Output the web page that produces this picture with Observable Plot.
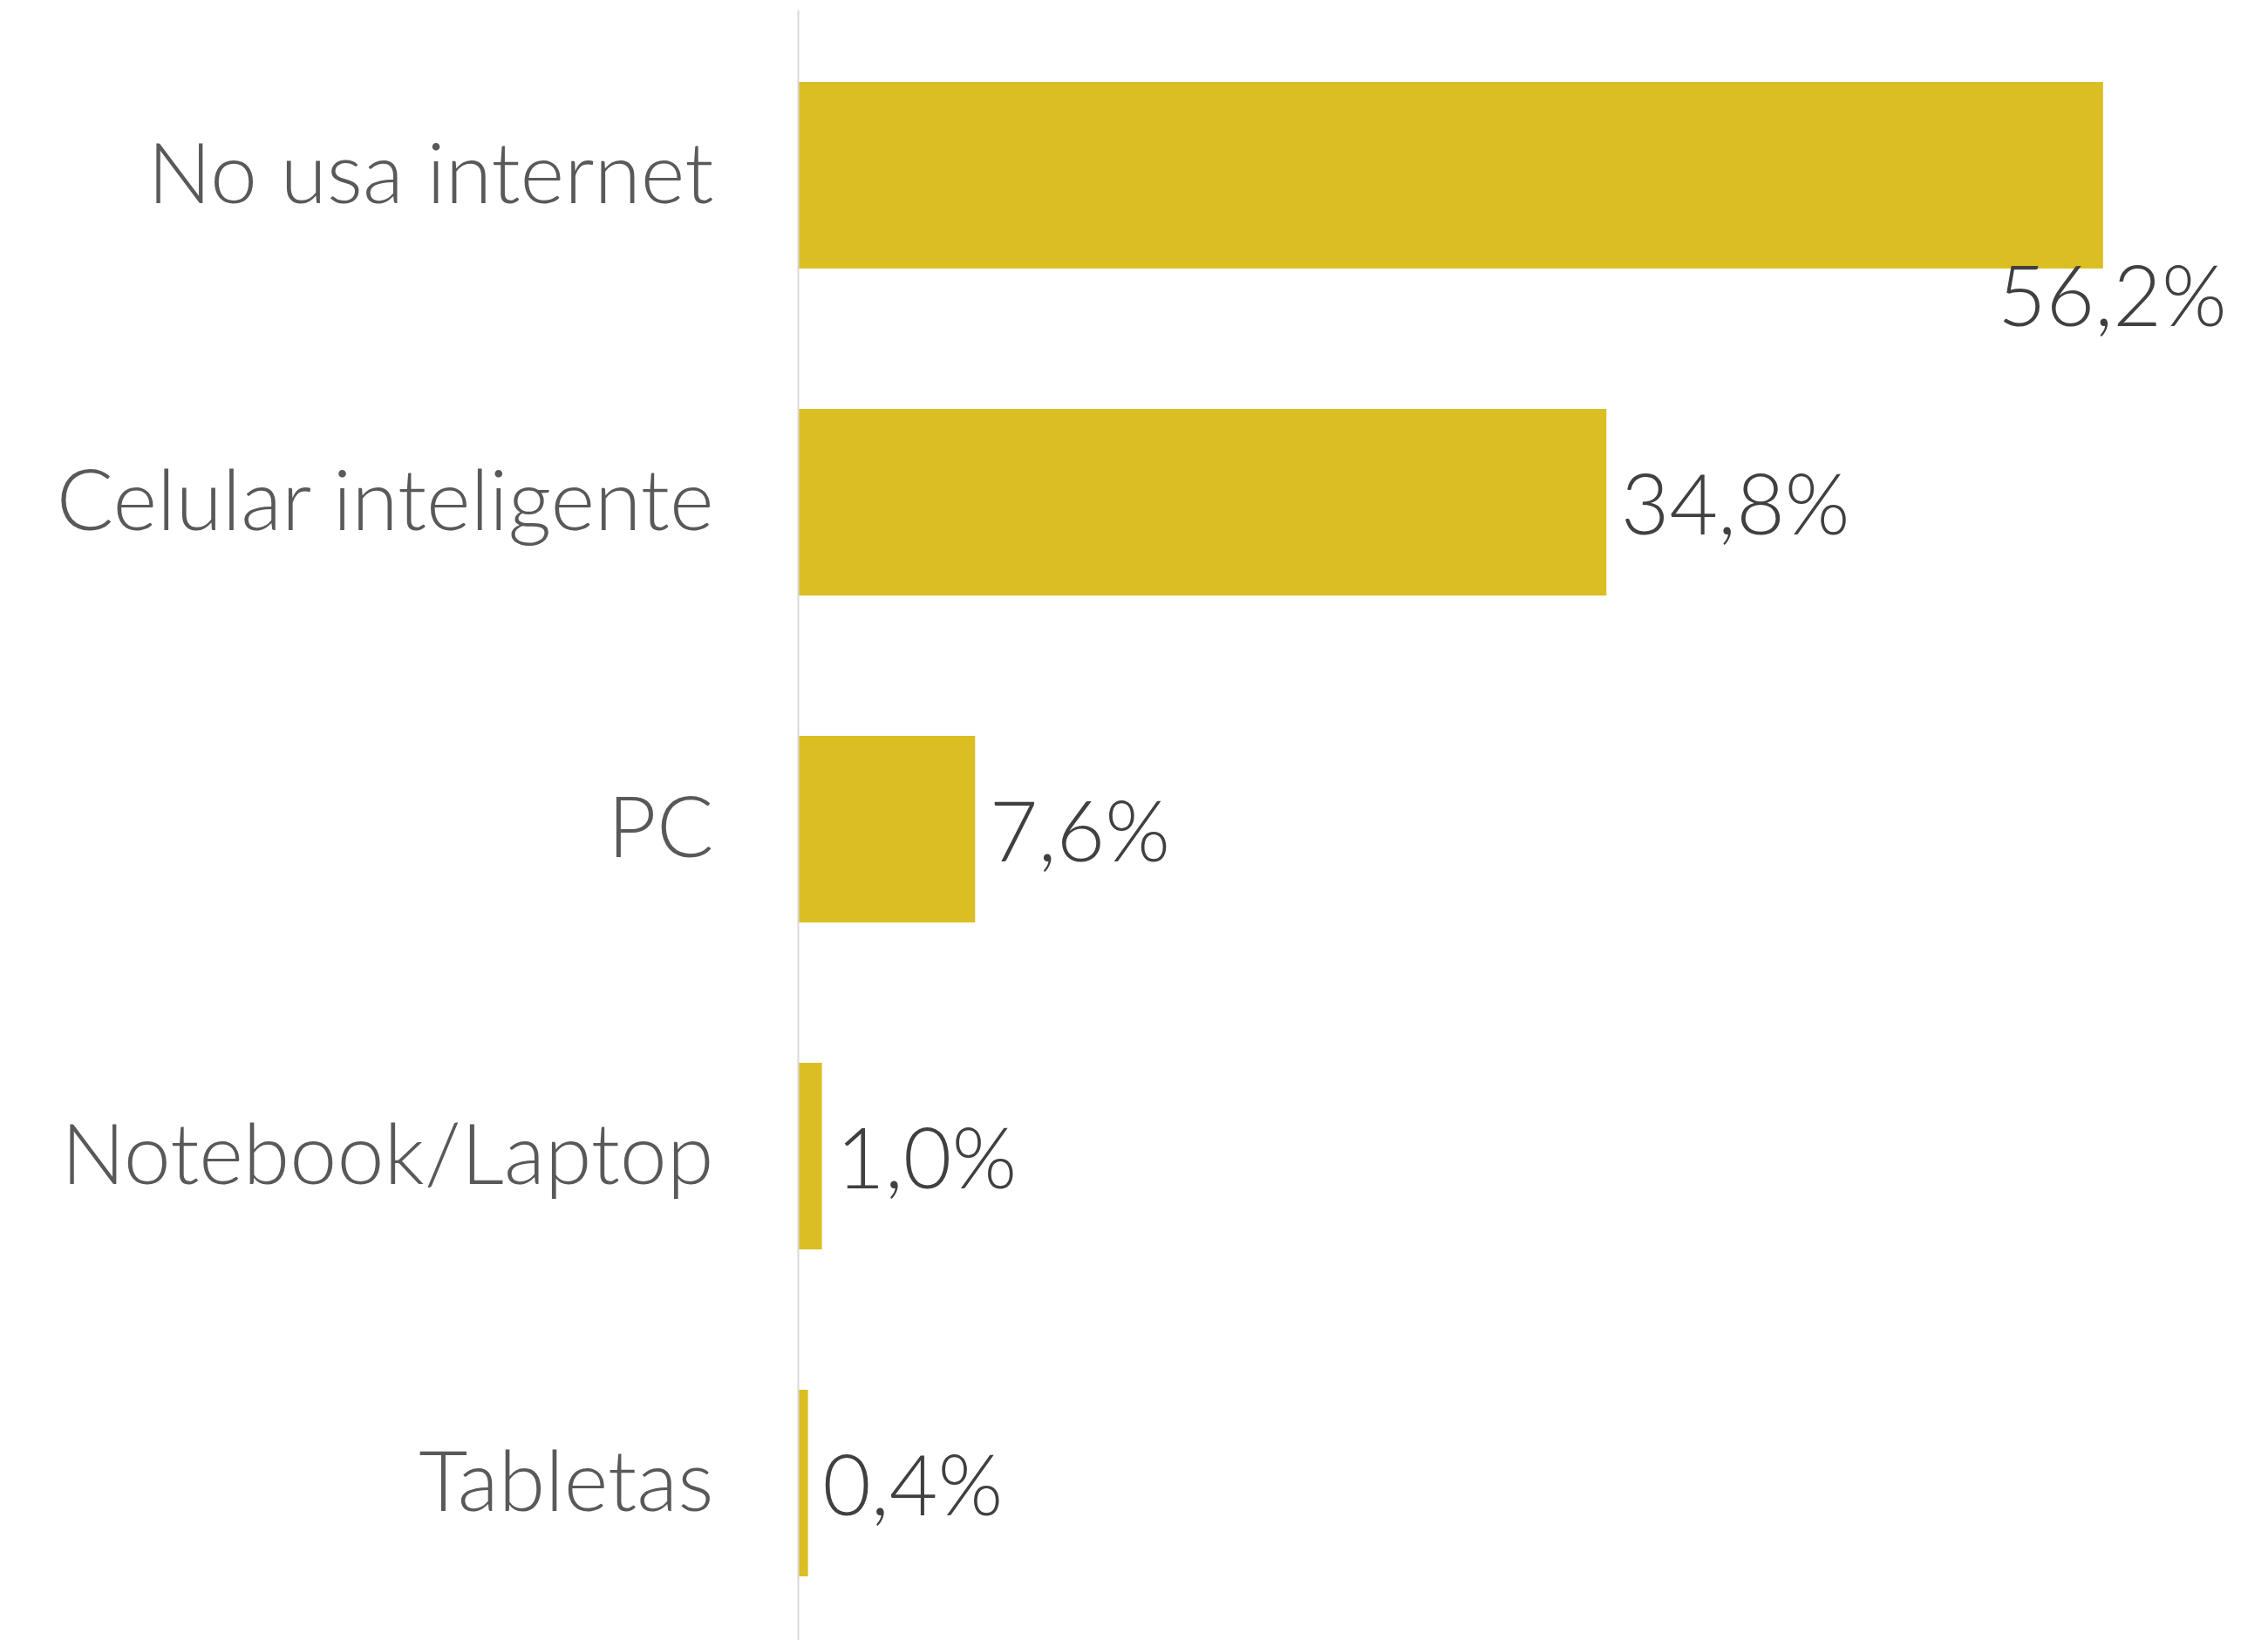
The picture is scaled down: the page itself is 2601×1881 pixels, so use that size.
<!DOCTYPE html>
<html>
<head>
<meta charset="utf-8">
<script src="https://cdn.jsdelivr.net/npm/d3@7"></script>
<script src="https://cdn.jsdelivr.net/npm/@observablehq/plot@0.6"></script>
<style>
  html, body { margin: 0; padding: 0; background: #ffffff; }
  #chart { width: 2601px; height: 1881px; }
</style>
</head>
<body>
<div id="chart"></div>
<script>
const categories = ["No usa internet", "Celular inteligente", "PC", "Notebook/Laptop", "Tabletas"];
const values = [56.2, 34.8, 7.6, 1.0, 0.4];
const valueLabels = ["56,2%", "34,8%", "7,6%", "1,0%", "0,4%"];

const data = categories.map((c, i) => ({category: c, value: values[i], label: valueLabels[i]}));
const first = data.slice(0, 1);
const rest = data.slice(1);

const chart = Plot.plot({
  width: 2601,
  height: 1881,
  marginLeft: 916,
  marginRight: 88,
  marginTop: 12,
  marginBottom: 0,
  style: {fontFamily: "Lato, 'Open Sans', sans-serif", fontWeight: 300, color: "#595959", background: "#ffffff"},
  x: {domain: [0, 60], axis: null},
  y: {domain: categories, range: [12, 1890], paddingInner: 0.43, paddingOuter: 0.215, label: null},
  marks: [
    Plot.axisY({tickSize: 0, tickPadding: 98, fontSize: 97, label: null, fill: "#595959"}),
    Plot.barX(data, {x: "value", y: "category", fill: "#DBBE24"}),
    Plot.ruleX([0], {stroke: "#d9d9d9", strokeWidth: 2, dx: -1}),
    Plot.text(rest, {x: "value", y: "category", text: "label", textAnchor: "start", dx: 16, dy: 6, fontSize: 96, fill: "#404040"}),
    Plot.text(first, {x: "value", y: "category", text: "label", textAnchor: "middle", dx: 10, dy: 142, fontSize: 96, fill: "#404040"})
  ]
});
document.getElementById("chart").appendChild(chart);
</script>
</body>
</html>
